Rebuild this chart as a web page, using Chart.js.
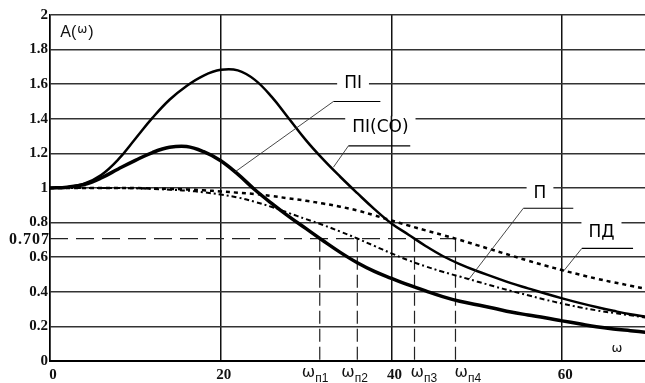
<!DOCTYPE html>
<html>
<head>
<meta charset="utf-8">
<script src="https://cdn.jsdelivr.net/npm/chart.js@4.4.1/dist/chart.umd.min.js"></script>
<style>
  html, body { margin: 0; padding: 0; background: #fff; }
</style>
</head>
<body>
<canvas id="chart" width="645" height="383"></canvas>
<script>
// frequency grid shared by all curves
const omega = [0, 2, 4, 6, 8, 10, 12, 14, 16, 18, 20, 22, 24, 26, 28, 30, 32, 34, 36, 38, 40, 42, 44, 46, 48, 50, 52, 54, 56, 58, 60, 62, 64, 66, 68, 70];

// A(w) of each controller
const ampPI = [1.0, 1.005, 1.02, 1.058, 1.11, 1.16, 1.205, 1.235, 1.24, 1.21, 1.158, 1.08, 0.99, 0.91, 0.835, 0.765, 0.695, 0.628, 0.568, 0.518, 0.478, 0.44, 0.405, 0.372, 0.345, 0.325, 0.305, 0.283, 0.266, 0.25, 0.232, 0.215, 0.198, 0.185, 0.175, 0.165];
const ampPICO = [1.0, 1.005, 1.025, 1.075, 1.165, 1.285, 1.405, 1.51, 1.59, 1.65, 1.683, 1.68, 1.625, 1.525, 1.4, 1.275, 1.165, 1.065, 0.97, 0.878, 0.795, 0.73, 0.665, 0.607, 0.56, 0.52, 0.485, 0.45, 0.42, 0.39, 0.362, 0.336, 0.312, 0.29, 0.27, 0.255];
const ampP = [1.0, 1.0, 1.0, 1.0, 1.0, 0.998, 0.995, 0.99, 0.985, 0.975, 0.962, 0.945, 0.92, 0.89, 0.855, 0.82, 0.786, 0.748, 0.708, 0.665, 0.622, 0.582, 0.547, 0.516, 0.488, 0.46, 0.432, 0.405, 0.38, 0.355, 0.332, 0.311, 0.293, 0.278, 0.264, 0.25];
const ampPD = [1.0, 1.0, 1.0, 1.0, 1.0, 1.0, 0.997, 0.995, 0.992, 0.987, 0.98, 0.973, 0.965, 0.953, 0.94, 0.926, 0.91, 0.892, 0.87, 0.842, 0.812, 0.783, 0.755, 0.728, 0.7, 0.67, 0.64, 0.61, 0.58, 0.552, 0.525, 0.5, 0.476, 0.455, 0.435, 0.415];

const seriesNames = ['ПI', 'ПI(CO)', 'П', 'ПД'];

// cut-off level and frequencies
const level = 0.707;
const cutoffs = [31.6, 36.0, 42.7, 47.5];
const cutoffSubs = ['п1', 'п2', 'п3', 'п4'];

const xTicks = [0, 20, 40, 60];

const pts = arr => omega.map((w, i) => ({ x: w, y: arr[i] }));

// where each curve name sits, in axis units (text centre, shelf line, leader tip, broken grid line)
const callouts = [
  { name: 0, at: [35.5, 1.605], shelf: [33.2, 38.7, 1.5], tip: [21.7, 1.094], grid: 1.6 },
  { name: 1, at: [38.7, 1.35], shelf: [34.95, 42.2, 1.243], tip: [33.2, 1.12], grid: 1.4 },
  { name: 2, at: [57.4, 0.968], shelf: [55.45, 61.3, 0.883], tip: [49.0, 0.468], grid: 1.0 },
  { name: 3, at: [64.6, 0.74], shelf: [62.3, 68.3, 0.651], tip: [60.2, 0.522], grid: 0.8 }
];
const cutoffLabelShift = [-18, -16, -4, -1];

const datasets = [
  { label: seriesNames[0], data: pts(ampPI), borderColor: '#000', borderWidth: 3.5 },
  { label: seriesNames[1], data: pts(ampPICO), borderColor: '#000', borderWidth: 2.5 },
  { label: seriesNames[2], data: pts(ampP), borderColor: '#000', borderWidth: 2, borderDash: [5, 3, 2, 3] },
  { label: seriesNames[3], data: pts(ampPD), borderColor: '#000', borderWidth: 2.5, borderDash: [4, 4] },
  { label: 'level', data: [{ x: 0, y: level }, { x: cutoffs[3], y: level }], borderColor: '#222', borderWidth: 1.2, borderDash: [18, 8], tension: 0 }
];
cutoffs.forEach(c => {
  datasets.push({ label: 'cut', data: [{ x: c, y: level }, { x: c, y: 0 }], borderColor: '#222', borderWidth: 1.2, borderDash: [13, 5], tension: 0 });
});

const notes = {
  id: 'notes',
  afterDatasetsDraw(chart) {
    const { ctx, scales: { x, y }, chartArea } = chart;
    const X = v => x.getPixelForValue(v);
    const Y = v => y.getPixelForValue(v);
    ctx.save();

    // curve names with leader lines
    ctx.font = '17px "DejaVu Sans"';
    ctx.textAlign = 'center';
    ctx.textBaseline = 'middle';
    callouts.forEach(c => {
      const text = seriesNames[c.name];
      const w = ctx.measureText(text).width;
      const cx = X(c.at[0]), cy = Y(c.at[1]), gy = Y(c.grid);
      const l = cx - w / 2 - 7, r = cx + w / 2 + 7;
      ctx.fillStyle = '#fff';
      ctx.fillRect(l, gy - 2.5, r - l, 5);
      xTicks.forEach(t => {
        const px = X(t);
        if (px > l && px < r) {
          ctx.strokeStyle = '#111'; ctx.lineWidth = 1.5;
          ctx.beginPath(); ctx.moveTo(px, gy - 3); ctx.lineTo(px, gy + 3); ctx.stroke();
        }
      });
      ctx.fillStyle = '#000';
      ctx.fillText(text, cx, cy);
      ctx.strokeStyle = '#000'; ctx.lineWidth = 1.2;
      ctx.beginPath(); ctx.moveTo(X(c.shelf[0]), Y(c.shelf[2])); ctx.lineTo(X(c.shelf[1]), Y(c.shelf[2])); ctx.stroke();
      ctx.strokeStyle = '#333'; ctx.lineWidth = 0.9;
      ctx.beginPath(); ctx.moveTo(X(c.shelf[0]), Y(c.shelf[2])); ctx.lineTo(X(c.tip[0]), Y(c.tip[1])); ctx.stroke();
    });

    // 0.707 on the value axis
    ctx.fillStyle = '#111';
    ctx.font = 'bold 16px "Liberation Serif"';
    ctx.textAlign = 'right';
    ctx.letterSpacing = '1px';
    ctx.fillText(String(level), chartArea.left, Y(level) + 1);
    ctx.letterSpacing = '0px';

    // cut-off frequency labels
    ctx.textAlign = 'left';
    ctx.textBaseline = 'alphabetic';
    cutoffs.forEach((c, i) => {
      const px = X(c) + cutoffLabelShift[i];
      ctx.font = '16px "DejaVu Sans"';
      ctx.fillText('ω', px, 377);
      const w = ctx.measureText('ω').width;
      ctx.font = '12px "Liberation Sans"';
      ctx.fillText(cutoffSubs[i], px + w, 382);
    });

    // axis names
    ctx.textBaseline = 'middle';
    let ax = X(1.2);
    const ay = Y(1.9);
    ctx.font = '16px "Liberation Sans"';
    ctx.fillText('A(', ax, ay);
    ax += ctx.measureText('A(').width;
    ctx.font = '12px "DejaVu Sans"';
    ctx.fillText('ω', ax + 1, ay - 2);
    ax += ctx.measureText('ω').width + 2;
    ctx.font = '16px "Liberation Sans"';
    ctx.fillText(')', ax, ay);

    ctx.font = '13px "DejaVu Sans"';
    ctx.textAlign = 'center';
    ctx.fillText('ω', X(66.4), Y(0.07));
    ctx.restore();
  }
};

new Chart(document.getElementById('chart'), {
  type: 'line',
  data: { datasets },
  options: {
    responsive: false,
    animation: false,
    layout: { padding: { top: 15, right: 0, left: 0, bottom: 0 } },
    plugins: { legend: { display: false }, tooltip: { enabled: false } },
    elements: { point: { radius: 0 }, line: { tension: 0.4, fill: false } },
    scales: {
      x: {
        type: 'linear', min: 0, max: 69.7,
        afterFit: s => { s.height = 22; },
        afterBuildTicks: s => { s.ticks = xTicks.map(v => ({ value: v })); },
        grid: { color: '#111', lineWidth: 1.5, drawTicks: false },
        border: { color: '#000', width: 2 },
        ticks: { padding: 5, labelOffset: 3, autoSkip: false, maxRotation: 0, color: '#111',
                 font: { family: '"Liberation Serif"', size: 15, weight: 'bold' } }
      },
      y: {
        min: 0, max: 2,
        afterFit: s => { s.width = 50; },
        grid: { color: '#333', lineWidth: 1.5, drawTicks: false },
        border: { color: '#000', width: 1.5 },
        ticks: { stepSize: 0.2, padding: 2, autoSkip: false, color: '#111',
                 font: { family: '"Liberation Serif"', size: 15, weight: 'bold' },
                 callback: v => String(+v.toFixed(1)) }
      }
    }
  },
  plugins: [notes]
});
</script>
</body>
</html>
